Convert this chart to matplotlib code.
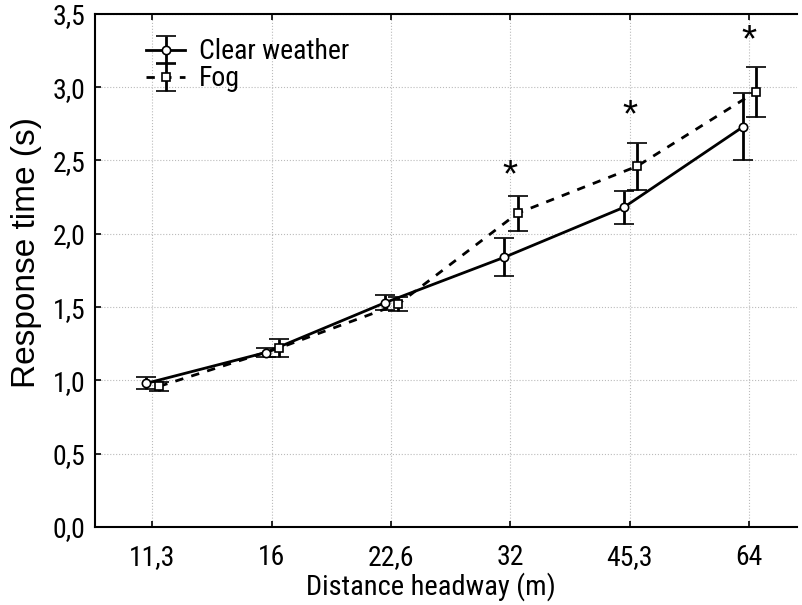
# modules
import numpy             as np
import matplotlib
matplotlib.use("Agg")
import matplotlib.pyplot as plt
from matplotlib import font_manager as fm
from matplotlib.ticker import FuncFormatter

# ---------------------------------------------------------------------------- #
#                                     DATA                                     #
# ---------------------------------------------------------------------------- #

headway_labels = ["11,3", "16", "22,6", "32", "45,3", "64"]

clear_mean = [0.98, 1.19, 1.53, 1.84, 2.18, 2.73]
clear_err  = [0.04, 0.03, 0.05, 0.13, 0.11, 0.23]

fog_mean   = [0.96, 1.22, 1.52, 2.14, 2.46, 2.97]
fog_err    = [0.03, 0.06, 0.05, 0.12, 0.16, 0.17]

star_idx   = [3, 4, 5]
star_y     = [2.39, 2.80, 3.31]

# ---------------------------------------------------------------------------- #
#                                     FONTS                                    #
# ---------------------------------------------------------------------------- #

# the reference uses a narrow Arial-like face; use one if installed
narrow = None
for f in fm.fontManager.ttflist:
    if f.name in ("Liberation Sans Narrow", "Roboto Condensed", "Open Sans Condensed"):
        narrow = f.name
        break
if narrow is not None:
    plt.rcParams['font.family'] = [narrow, 'Liberation Sans', 'DejaVu Sans']
    scale = 1.0
else:
    plt.rcParams['font.family'] = ['Liberation Sans', 'DejaVu Sans']
    scale = 0.84

# ---------------------------------------------------------------------------- #
#                                     FIGURE                                   #
# ---------------------------------------------------------------------------- #

fig = plt.figure(figsize=(8.02, 6.05), dpi=100)
ax  = fig.add_axes([0.1185, 0.129, 0.875, 0.848])

x = np.arange(len(headway_labels))
off_c, off_f = -0.05, 0.06

ax.errorbar(x + off_c, clear_mean, yerr=clear_err, color="black", lw=2.0,
            ls="-", marker="o", ms=6, mfc="white", mec="black", mew=1.2,
            capsize=7, capthick=2.0, elinewidth=2.0, label="Clear weather", zorder=3)
ax.errorbar(x + off_f, fog_mean, yerr=fog_err, color="black", lw=2.0,
            ls=(0, (3, 3)), marker="s", ms=6, mfc="white", mec="black", mew=1.2,
            capsize=7, capthick=2.0, elinewidth=2.0, label="Fog", zorder=3)

for i, yy in zip(star_idx, star_y):
    ax.text(x[i], yy, "*", ha="center", va="center", fontsize=28,
            family=['Liberation Sans', 'DejaVu Sans'])

ax.set_xlim(-0.48, 5.40)
ax.set_ylim(0, 3.5)
ax.set_xticks(x)
ax.set_xticklabels(headway_labels)
ax.set_yticks(np.arange(0, 3.51, 0.5))
ax.yaxis.set_major_formatter(FuncFormatter(lambda v, p: f"{v:.1f}".replace(".", ",")))

ax.tick_params(labelsize=20 * scale, length=4, width=1.2, direction="in", top=True)
ax.tick_params(axis="x", pad=12)
ax.tick_params(axis="y", pad=7)
ax.set_xlabel("Distance headway (m)", fontsize=20.5 * scale)
ax.set_ylabel("Response time (s)", fontsize=24,
              family=['Liberation Sans', 'DejaVu Sans'])
ax.xaxis.set_label_coords(0.479, -0.088)
ax.yaxis.set_label_coords(-0.076, 0.535)

ax.grid(True, ls=":", color="#bbbbbb", lw=0.8)
ax.set_axisbelow(True)
ax.spines["right"].set_visible(False)
for s in ["left", "bottom", "top"]:
    ax.spines[s].set_linewidth(1.5)

ax.legend(loc="upper left", bbox_to_anchor=(0.045, 0.99), frameon=False,
          fontsize=20 * scale, handlelength=1.4, handletextpad=0.5,
          labelspacing=0.0, borderaxespad=0.3)

fig.savefig("out.png", dpi=100)
